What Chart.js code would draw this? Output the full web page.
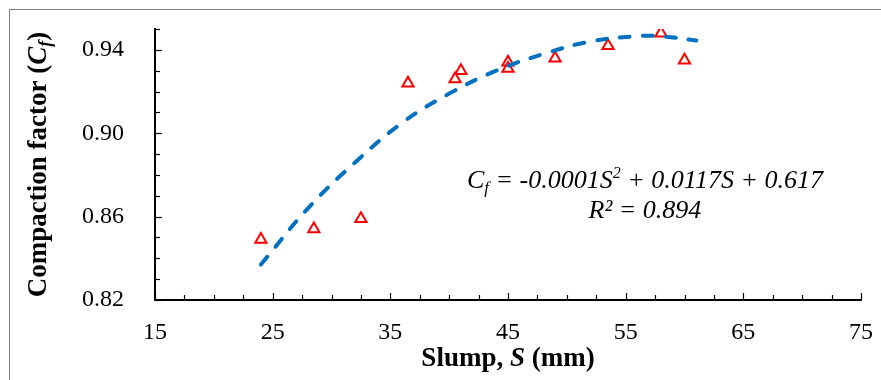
<!DOCTYPE html>
<html><head><meta charset="utf-8">
<script src="https://cdn.jsdelivr.net/npm/chart.js@4"></script>
<style>
html,body{margin:0;padding:0;background:#fff;}
#wrap{position:relative;width:881px;height:380px;overflow:hidden;}
#frame{position:absolute;left:9px;top:9px;width:900px;height:400px;border-left:1px solid #808080;border-top:1px solid #808080;}
canvas{position:absolute;left:0;top:0;}
</style></head><body>
<div id="wrap"><div id="frame"></div><canvas id="c" width="881" height="380"></canvas></div>
<script>
// Measured data (Slump S in mm, Compaction factor Cf)
const slump = [24, 28.5, 32.5, 36.5, 40.5, 41, 45, 45, 49, 53.5, 58, 60];
const compaction = [0.849, 0.854, 0.859, 0.924, 0.926, 0.930, 0.934, 0.931, 0.936, 0.942, 0.948, 0.935];
// Polynomial trend line
const trendSlump = [24, 28, 32, 36, 40, 44, 48, 52, 56, 58, 61];
const trendCf = [0.837, 0.864, 0.886, 0.905, 0.919, 0.930, 0.938, 0.944, 0.9466, 0.9465, 0.9445];
// Axis tick labels
const xTickLabels = [15, 25, 35, 45, 55, 65, 75];
const yTickLabels = [0.82, 0.86, 0.90, 0.94];
const xMinorStep = 2.5, yMinorStep = 0.01;
const xMin = 15, xMax = 75, yMin = 0.82, yMax = 0.95;
const eqLine1 = ['C', 'f', ' = -0.0001S', '2', ' + 0.0117S + 0.617'];
const eqLine2 = 'R² = 0.894';

const SERIF = "'Liberation Serif', 'Times New Roman', serif";

function drawRich(ctx, segs, x, y, align) {
  let w = 0;
  segs.forEach(s => { ctx.font = s.font; s.w = ctx.measureText(s.t).width; w += s.w; });
  let cx = align === 'center' ? x - w / 2 : x;
  ctx.textAlign = 'left';
  ctx.textBaseline = 'alphabetic';
  segs.forEach(s => { ctx.font = s.font; ctx.fillText(s.t, cx, y + (s.dy || 0)); cx += s.w; });
}

const decorations = {
  id: 'decorations',
  afterDraw(chart) {
    const ctx = chart.ctx;
    const xs = chart.scales.x, ys = chart.scales.y;
    const a = chart.chartArea;
    ctx.save();
    ctx.strokeStyle = '#000';
    ctx.lineWidth = 1.2;
    const nx = Math.round((xMax - xMin) / xMinorStep);
    for (let i = 0; i <= nx; i++) {
      const v = xMin + i * xMinorStep;
      const px = Math.round(xs.getPixelForValue(v)) + 0.5;
      const major = xTickLabels.some(t => Math.abs(t - v) < 1e-6);
      const len = major ? 7 : 5;
      ctx.beginPath(); ctx.moveTo(px, a.bottom); ctx.lineTo(px, a.bottom - len); ctx.stroke();
    }
    const ny = Math.round((yMax - yMin) / yMinorStep);
    for (let i = 0; i <= ny; i++) {
      const v = yMin + i * yMinorStep;
      const py = Math.round(ys.getPixelForValue(v)) + 0.5;
      const major = yTickLabels.some(t => Math.abs(t - v) < 1e-6);
      const len = major ? 7 : 5;
      ctx.beginPath(); ctx.moveTo(a.left, py); ctx.lineTo(a.left + len, py); ctx.stroke();
    }
    ctx.fillStyle = '#000';
    drawRich(ctx, [
      {t: 'Slump, ', font: 'bold 27px ' + SERIF},
      {t: 'S', font: 'italic bold 27px ' + SERIF},
      {t: ' (mm)', font: 'bold 27px ' + SERIF}
    ], (a.left + a.right) / 2, a.bottom + 66, 'center');
    ctx.save();
    ctx.translate(46, (a.top + a.bottom) / 2);
    ctx.rotate(-Math.PI / 2);
    drawRich(ctx, [
      {t: 'Compaction factor (', font: 'bold 27px ' + SERIF},
      {t: 'C', font: 'italic bold 27px ' + SERIF},
      {t: 'f', font: 'italic bold 18px ' + SERIF, dy: 5},
      {t: ')', font: 'bold 27px ' + SERIF}
    ], 0, 0, 'center');
    ctx.restore();
    const ex = a.left + 0.694 * (a.right - a.left);
    drawRich(ctx, [
      {t: eqLine1[0], font: 'italic 26px ' + SERIF},
      {t: eqLine1[1], font: 'italic 17px ' + SERIF, dy: 5},
      {t: eqLine1[2], font: 'italic 26px ' + SERIF},
      {t: eqLine1[3], font: 'italic 16px ' + SERIF, dy: -10},
      {t: eqLine1[4], font: 'italic 26px ' + SERIF}
    ], ex, a.top + 0.587 * (a.bottom - a.top), 'center');
    drawRich(ctx, [{t: eqLine2, font: 'italic 26px ' + SERIF}], ex, a.top + 0.697 * (a.bottom - a.top), 'center');
    ctx.restore();
  }
};

function noPad(s) { s.paddingTop = 0; s.paddingBottom = 0; s.paddingLeft = 0; s.paddingRight = 0; }

new Chart(document.getElementById('c'), {
  type: 'scatter',
  data: {
    datasets: [
      {
        label: 'Trend',
        data: trendSlump.map((s, i) => ({x: s, y: trendCf[i]})),
        showLine: true,
        pointRadius: 0,
        borderColor: '#0070C0',
        borderWidth: 4,
        borderDash: [10, 13],
        borderCapStyle: 'round',
        tension: 0.4,
        fill: false
      },
      {
        label: 'Data',
        data: slump.map((s, i) => ({x: s, y: compaction[i]})),
        pointStyle: 'triangle',
        pointRadius: 6.5,
        pointBorderWidth: 2,
        pointBorderColor: '#FF0000',
        pointBackgroundColor: 'rgba(0,0,0,0)',
        borderColor: '#FF0000',
        backgroundColor: 'rgba(0,0,0,0)'
      }
    ]
  },
  options: {
    responsive: false,
    animation: false,
    events: [],
    layout: {padding: {left: 10, right: 20, top: 29, bottom: 5}},
    plugins: {legend: {display: false}, tooltip: {enabled: false}},
    scales: {
      x: {
        type: 'linear', min: xMin, max: xMax,
        afterBuildTicks: s => { s.ticks = xTickLabels.map(v => ({value: v})); },
        afterFit: s => { s.height = 75; noPad(s); },
        grid: {display: false},
        border: {display: true, color: '#000', width: 2},
        ticks: {color: '#000', font: {family: SERIF, size: 24}, padding: 10, maxRotation: 0, autoSkip: false,
                callback: v => String(v)}
      },
      y: {
        type: 'linear', min: yMin, max: yMax,
        afterBuildTicks: s => { s.ticks = yTickLabels.map(v => ({value: v})); },
        afterFit: s => { s.width = 145; noPad(s); },
        grid: {display: false},
        border: {display: true, color: '#000', width: 2},
        ticks: {color: '#000', font: {family: SERIF, size: 24}, padding: 23,
                callback: v => Number(v).toFixed(2)}
      }
    }
  },
  plugins: [decorations]
});
</script>
</body></html>
